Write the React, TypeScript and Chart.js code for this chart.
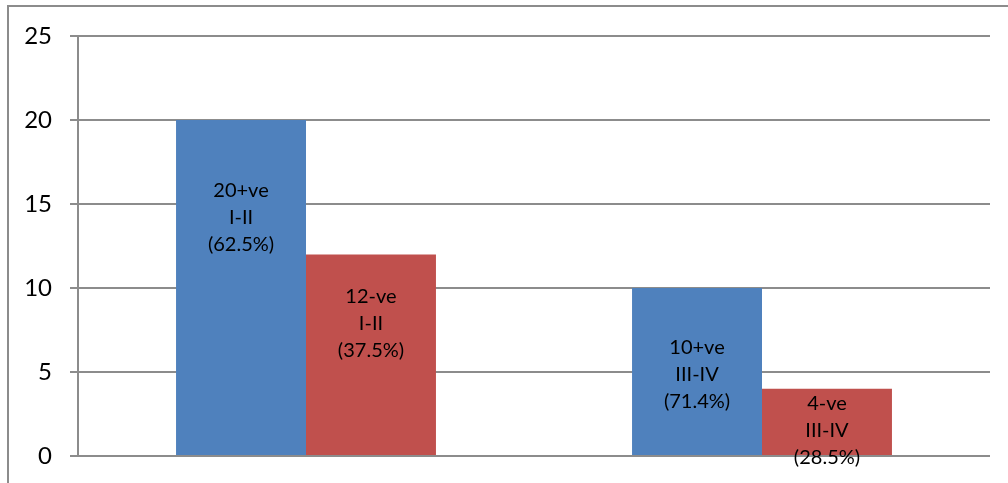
import React, { useEffect, useRef } from "react";
import { Chart, registerables } from "chart.js";

Chart.register(...registerables);

const categories = ["I-II", "III-IV"];
const positiveValues = [20, 10];
const negativeValues = [12, 4];
const positiveLabels = [
  ["20+ve", "I-II", "(62.5%)"],
  ["10+ve", "III-IV", "(71.4%)"],
];
const negativeLabels = [
  ["12-ve", "I-II", "(37.5%)"],
  ["4-ve", "III-IV", "(28.5%)"],
];
const yTicks = [0, 5, 10, 15, 20, 25];

const FONT = "Lato, 'Open Sans', sans-serif";

const barLabelPlugin = {
  id: "barLabels",
  afterDatasetsDraw(chart: any) {
    const ctx = chart.ctx;
    const offsets = [
      [98, 87],
      [69, 42],
    ];
    const allLabels = [positiveLabels, negativeLabels];
    ctx.save();
    ctx.font = `20px ${FONT}`;
    ctx.fillStyle = "#000";
    ctx.textAlign = "center";
    ctx.textBaseline = "middle";
    chart.data.datasets.forEach((_: any, di: number) => {
      const meta = chart.getDatasetMeta(di);
      meta.data.forEach((bar: any, i: number) => {
        const lines = allLabels[di][i];
        const mid = bar.y + offsets[di][i];
        lines.forEach((line: string, li: number) => {
          ctx.fillText(line, bar.x, mid + (li - 1) * 27);
        });
      });
    });
    ctx.restore();
  },
};

export default function App() {
  const ref = useRef<HTMLCanvasElement>(null);
  useEffect(() => {
    if (!ref.current) return;
    const chart = new Chart(ref.current, {
      type: "bar",
      data: {
        labels: categories,
        datasets: [
          {
            label: "+ve",
            data: positiveValues,
            backgroundColor: "#4F81BD",
            barPercentage: 1,
            categoryPercentage: 0.57,
          },
          {
            label: "-ve",
            data: negativeValues,
            backgroundColor: "#C0504D",
            barPercentage: 1,
            categoryPercentage: 0.57,
          },
        ],
      },
      options: {
        responsive: false,
        animation: false,
        events: [],
        layout: { padding: { top: 36, right: 18, bottom: 27, left: 0 } },
        plugins: {
          legend: { display: false },
          tooltip: { enabled: false },
        },
        scales: {
          x: { display: false },
          y: {
            min: 0,
            max: 25,
            afterBuildTicks(scale: any) {
              scale.ticks = yTicks.map((v) => ({ value: v }));
            },
            afterFit(scale: any) {
              scale.width = 78;
              scale.paddingTop = 0;
              scale.paddingBottom = 0;
            },
            ticks: {
              color: "#000",
              padding: 18,
              font: { family: FONT, size: 24 },
            },
            grid: {
              color: "#8c8c8c",
              lineWidth: 2,
              tickLength: 8,
              tickColor: "#8c8c8c",
            },
            border: { display: true, color: "#8c8c8c", width: 2 },
          },
        },
      },
      plugins: [barLabelPlugin],
    });
    return () => chart.destroy();
  }, []);
  return (
    <div
      style={{
        position: "fixed",
        left: 0,
        top: 0,
        width: 1008,
        height: 483,
        overflow: "hidden",
        background: "#fff",
      }}
    >
      <div
        style={{
          position: "absolute",
          left: 7,
          top: 5,
          width: 1100,
          height: 600,
          borderLeft: "2px solid #8c8c8c",
          borderTop: "2px solid #8c8c8c",
        }}
      />
      <canvas
        ref={ref}
        width={1008}
        height={483}
        style={{ position: "absolute", left: 0, top: 0 }}
      />
    </div>
  );
}
